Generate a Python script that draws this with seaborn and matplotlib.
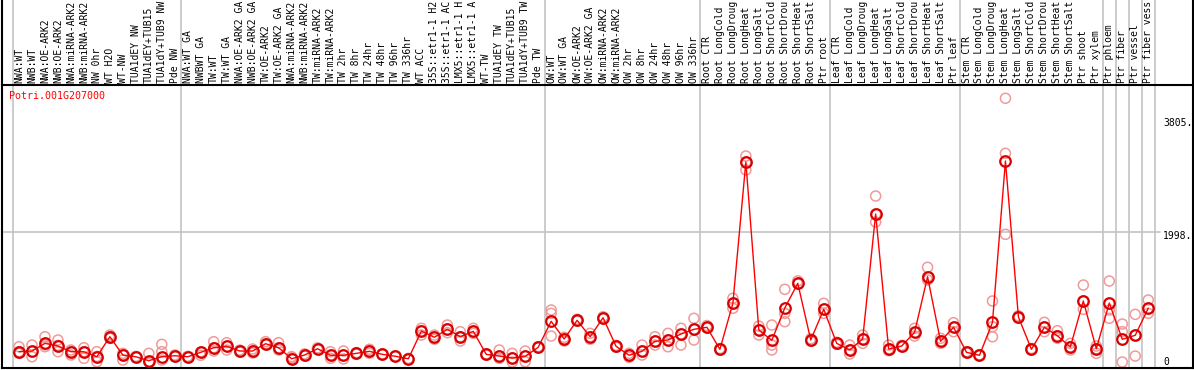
import pandas as pd
import seaborn as sns
import matplotlib
import matplotlib.pyplot as plt
from matplotlib import transforms

sns.set_style('white')
plt.rcParams['font.family'] = ['DejaVu Sans Mono']

gene = 'Potri.001G207000'

# sample names as shown (the source cuts them to 14 characters)
labels = [
    'NWA:WT', 'NWB:WT', 'NWA:OE-ARK2', 'NWB:OE-ARK2', 'NWA:miRNA-ARK2', 'NWB:miRNA-ARK2',
    'NW 0hr', 'WT H2O', 'WT-NW', 'TUA1dEY NW', 'TUA1dEY+TUB15', 'TUA1dY+TUB9 NW', 'Pde NW',
    'NWA:WT GA', 'NWBWT GA', 'TW:WT', 'TW:WT GA', 'NWA:OE-ARK2 GA', 'NWB:OE-ARK2 GA',
    'TW:OE-ARK2', 'TW:OE-ARK2 GA', 'NWA:miRNA-ARK2', 'NWB:miRNA-ARK2', 'TW:miRNA-ARK2',
    'TW:miRNA-ARK2', 'TW 2hr', 'TW 8hr', 'TW 24hr', 'TW 48hr', 'TW 96hr', 'TW 336hr',
    'WT ACC', '35S::etr1-1 H2', '35S::etr1-1 AC', 'LMX5::etr1-1 H', 'LMX5::etr1-1 A',
    'WT-TW', 'TUA1dEY TW', 'TUA1dEY+TUB15', 'TUA1dY+TUB9 TW', 'Pde TW',
    'OW:WT', 'OW:WT GA', 'OW:OE-ARK2', 'OW:OE-ARK2 GA', 'OW:miRNA-ARK2', 'OW:miRNA-ARK2',
    'OW 2hr', 'OW 8hr', 'OW 24hr', 'OW 48hr', 'OW 96hr', 'OW 336hr',
    'Root CTR', 'Root LongCold', 'Root LongDroug', 'Root LongHeat', 'Root LongSalt',
    'Root ShortCold', 'Root ShortDrou', 'Root ShortHeat', 'Root ShortSalt', 'Ptr root',
    'Leaf CTR', 'Leaf LongCold', 'Leaf LongDroug', 'Leaf LongHeat', 'Leaf LongSalt',
    'Leaf ShortCold', 'Leaf ShortDrou', 'Leaf ShortHeat', 'Leaf ShortSalt', 'Ptr leaf',
    'Stem CTR', 'Stem LongCold', 'Stem LongDroug', 'Stem LongHeat', 'Stem LongSalt',
    'Stem ShortCold', 'Stem ShortDrou', 'Stem ShortHeat', 'Stem ShortSalt', 'Ptr shoot',
    'Ptr xylem', 'Ptr phloem', 'Ptr fiber', 'Ptr vessel', 'Ptr fiber vess',
]

means = [
    164, 175, 297, 254, 164, 164, 84, 402, 111, 84, 21, 84, 100,
    84, 154, 227, 250, 175, 175, 291, 227, 52, 111, 211, 107, 107, 138, 170, 122, 91, 52,
    493, 393, 520, 402, 488, 122, 95, 64, 91, 234,
    647, 366, 663, 402, 704, 250, 107, 170, 329, 350, 445, 520,
    552, 202, 933, 3180, 509, 345, 859, 1251, 350, 838,
    297, 191, 366, 2353, 207, 254, 472, 1356, 329, 552,
    154, 107, 631, 3196, 716, 202, 552, 418, 239, 970,
    211, 938, 361, 425, 854,
]

replicates = [
    [243, 138, 164], [270, 84, 164], [402, 243, 273], [350, 164, 265], [191, 111, 159],
    [227, 59, 164], [164, 5, 89], [429, 377, 402], [138, 32, 111], [89, 78, 84],
    [138, 0, 5], [281, 164, 32], [111, 84, 100],
    [90, 78, 84], [159, 106, 154], [323, 175, 227], [307, 191, 250], [190, 160, 175],
    [207, 143, 175], [324, 276, 291], [307, 191, 227], [86, 68, 52], [130, 95, 111],
    [225, 200, 211], [164, 59, 107], [175, 48, 107], [150, 125, 138], [203, 138, 170],
    [130, 115, 122], [98, 85, 91], [58, 46, 52], [536, 429, 493], [429, 361, 393],
    [588, 466, 520], [482, 334, 402], [536, 456, 488], [130, 110, 122], [191, 59, 95],
    [138, 0, 64], [175, 5, 91], [245, 225, 234],
    [827, 774, 413], [393, 334, 366], [680, 650, 663], [456, 361, 402], [720, 690, 704],
    [265, 235, 250], [138, 75, 107], [270, 111, 170], [402, 270, 329], [456, 243, 350],
    [536, 270, 445], [695, 350, 520],
    [580, 540, 552], [215, 190, 202], [1013, 854, 933], [3275, 3053, 3180], [572, 429, 509],
    [588, 270, 191], [1156, 774, 641], [1290, 1240, 1251], [370, 330, 350], [933, 774, 838],
    [315, 280, 297], [270, 127, 191], [429, 297, 366], [2639, 2226, 2353], [270, 180, 207],
    [265, 245, 254], [536, 413, 472], [1506, 1304, 1356], [377, 297, 329], [625, 482, 552],
    [165, 145, 154], [115, 100, 107], [970, 561, 402], [4193, 3318, 2030], [735, 700, 716],
    [215, 190, 202], [631, 482, 552], [498, 377, 418], [297, 191, 239], [1224, 838, 970],
    [254, 138, 211], [1288, 827, 695], [604, 482, 0], [758, 95, 425], [986, 774, 854],
]

# group boundaries (a grey line after each of these sample indices)
group_ends = [-1, 12, 40, 52, 62, 72, 83, 84, 85, 86, 87]

y_ticks = [0, 1998, 3805]
y_ticklabels = ['0', '1998.', '3805.']

rep_df = pd.DataFrame([(i, v) for i, vals in enumerate(replicates) for v in vals],
                      columns=['sample', 'value'])
mean_df = pd.DataFrame({'sample': range(len(labels)), 'value': means})

W, H = 1194, 370
fig = plt.figure(figsize=(W / 100, H / 100), dpi=100)
ax = fig.add_axes([2 / W, 2 / H, 1191 / W, 283 / H])

sep_col = '#c4c4c4'
for g in group_ends:
    ax.axvline(g + 0.5, ymin=0, ymax=1.31, color=sep_col, lw=1.2, clip_on=False, zorder=1)

# grid line at the middle tick (drawn a few px above its label, like the source)
gtr = transforms.blended_transform_factory(ax.transAxes, ax.transData) + \
    transforms.ScaledTranslation(0, 4.7 / 100, fig.dpi_scale_trans)
ax.plot([0, 0.972], [y_ticks[1], y_ticks[1]], transform=gtr, color=sep_col, lw=1.2, zorder=1)

sns.scatterplot(data=rep_df, x='sample', y='value', ax=ax, s=52, marker='o',
                color='#f09a9a', linewidth=1.1, zorder=2, legend=False)
coll = ax.collections[-1]
coll.set_facecolor('none')
coll.set_edgecolor('#f09a9a')

sns.lineplot(data=mean_df, x='sample', y='value', ax=ax, color='#ff0000', lw=1.0,
             marker='o', markersize=7.6, markerfacecolor='none',
             markeredgecolor='#d80000', markeredgewidth=1.6, zorder=3)
ax.lines[-1].set_markerfacecolor('none')

ax.set_xlim(-1.31, 90.45)
ax.set_ylim(-95, 4404)
ax.set_xticks([])
ax.set_yticks([])
ax.set_xlabel('')
ax.set_ylabel('')
for s in ax.spines.values():
    s.set_color('black')
    s.set_linewidth(1.5)
# side borders run up through the label strip
for xa in (0, 1):
    ax.plot([xa, xa], [1, 1.31], transform=ax.transAxes, color='black', lw=1.5, clip_on=False)

ltr = transforms.blended_transform_factory(ax.transData, ax.transAxes)
for i, lab in enumerate(labels):
    ax.text(i, 1.007, lab, transform=ltr, rotation=90, ha='center', va='bottom',
            fontsize=7, color='black', clip_on=False)

ytr = transforms.blended_transform_factory(ax.transAxes, ax.transData)
for v, t in zip(y_ticks, y_ticklabels):
    ax.text(0.9748, v, t, transform=ytr, ha='left', va='center', fontsize=7, color='black')

ax.text(0.0061, 0.961, gene, transform=ax.transAxes, ha='left', va='center',
        fontsize=7.2, color='red')

fig.savefig('out.png', dpi=100)
